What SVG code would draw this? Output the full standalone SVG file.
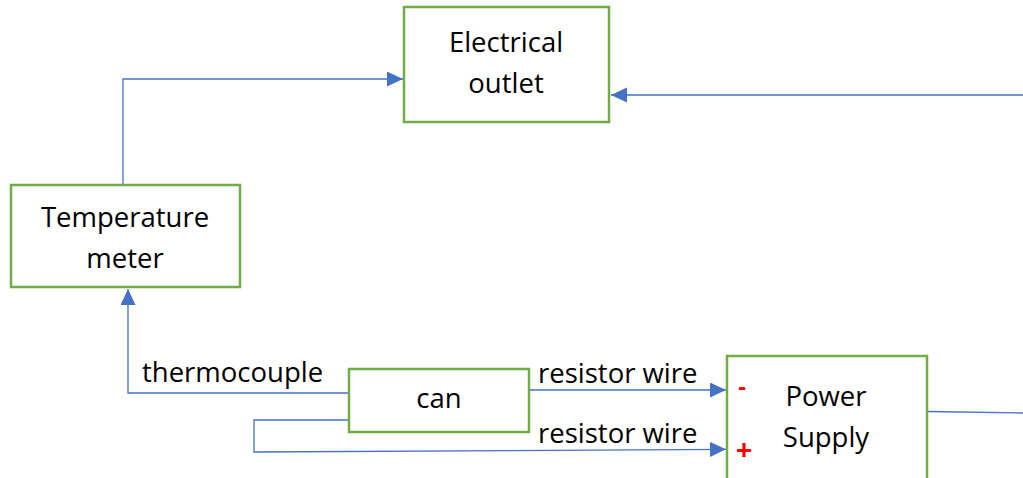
<svg xmlns="http://www.w3.org/2000/svg" width="1023" height="478" viewBox="0 0 1023 478">
<defs>
<style>
.box{fill:#fff;stroke:#70AD47;stroke-width:2.5}
.lbl{font-family:"Open Sans","Segoe UI",sans-serif;font-size:27.5px;fill:#000}
.mid{text-anchor:middle}
.wire{fill:none;stroke:#4472C4;stroke-width:1.3}
.pol{font-family:"Open Sans",sans-serif;font-weight:bold;fill:#FF0000;text-anchor:middle}
</style>
<marker id="arr" markerUnits="userSpaceOnUse" markerWidth="17" markerHeight="16" refX="16" refY="7.5" orient="auto">
<path d="M0,0 L16,7.5 L0,15 z" fill="#4472C4"/>
</marker>
</defs>
<rect width="1023" height="478" fill="#fff"/>
<g id="connectors">
<path class="wire" d="M123,185 V79 H403" marker-end="url(#arr)"/>
<path class="wire" d="M1023,95 H611" marker-end="url(#arr)"/>
<path class="wire" d="M348,393 H128 V289" marker-end="url(#arr)"/>
<path class="wire" d="M529,390 H726" marker-end="url(#arr)"/>
<path class="wire" d="M349,420 H254 V452 L726,449.3" marker-end="url(#arr)"/>
<path class="wire" d="M927,411.5 L1023,413"/>
<text class="lbl" x="142" y="382">thermocouple</text>
<text class="lbl" x="538" y="383">resistor wire</text>
<text class="lbl" x="538" y="443">resistor wire</text>
</g>
<g id="electrical-outlet">
<rect class="box" x="404" y="7" width="205" height="115"/>
<text class="lbl mid" x="506" y="52">Electrical</text>
<text class="lbl mid" x="506" y="93">outlet</text>
</g>
<g id="temperature-meter">
<rect class="box" x="11" y="185" width="229" height="102"/>
<text class="lbl mid" x="125" y="227">Temperature</text>
<text class="lbl mid" x="125" y="268">meter</text>
</g>
<g id="can">
<rect class="box" x="349" y="369" width="180" height="63"/>
<text class="lbl mid" x="439" y="408">can</text>
</g>
<g id="power-supply">
<rect class="box" x="727" y="356" width="200" height="130"/>
<text class="lbl mid" x="826" y="406">Power</text>
<text class="lbl mid" x="826" y="447">Supply</text>
<text class="pol" x="742" y="395" font-size="24">-</text>
<text class="pol" x="744" y="460" font-size="29">+</text>
</g>
</svg>
